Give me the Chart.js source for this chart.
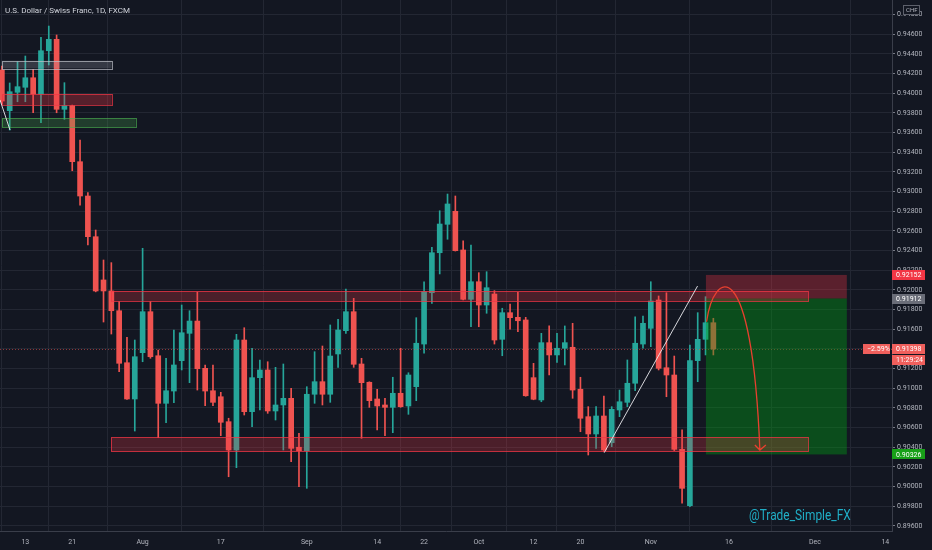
<!DOCTYPE html>
<html>
<head>
<meta charset="utf-8">
<title>USDCHF 1D</title>
<script src="https://cdn.jsdelivr.net/npm/chart.js@4.4.1/dist/chart.umd.min.js"></script>
<style>
  html, body { margin: 0; padding: 0; background: #131722; }
  #wrap { width: 932px; height: 550px; }
</style>
</head>
<body>
<div id="wrap"><canvas id="chart" width="932" height="550"></canvas></div>
<script>
// USD/CHF daily candles, 8 Jul .. 12 Nov 2020 (bar 0 = 13 Jul)
const firstBar = -3;

const openP = [
  0.94237, 0.93823, 0.94010, 0.94061, 0.94158, 0.93993, 0.94433, 0.94549, 0.93837, 0.93874,
  0.93304, 0.92955, 0.92541, 0.92101, 0.91989, 0.91788, 0.91259, 0.90890, 0.91361, 0.91778,
  0.91330, 0.90846, 0.90971, 0.91280, 0.91558, 0.91683, 0.91202, 0.90974, 0.90913, 0.90659,
  0.90371, 0.91490, 0.90761, 0.91107, 0.91185, 0.90768, 0.90829, 0.90897, 0.90399, 0.90364,
  0.90938, 0.91066, 0.90938, 0.91348, 0.91585, 0.91778, 0.91246, 0.91060, 0.90890, 0.90829,
  0.90805, 0.90948, 0.90819, 0.91015, 0.91449, 0.91971, 0.92378, 0.92667, 0.92799, 0.92406,
  0.91904, 0.92083, 0.91846, 0.91958, 0.91497, 0.91768, 0.91721, 0.91694, 0.91107, 0.90880,
  0.91463, 0.91338, 0.91406, 0.91416, 0.90989, 0.90710, 0.90534, 0.90717, 0.90445, 0.90778,
  0.90856, 0.91050, 0.91449, 0.91609, 0.91897, 0.91208, 0.91134, 0.90378, 0.89804, 0.91280,
  0.91497, 0.91666
];
const highP = [
  0.94278, 0.94105, 0.94321, 0.94379, 0.94244, 0.94569, 0.94684, 0.94593, 0.94108, 0.93880,
  0.93525, 0.92989, 0.92609, 0.92304, 0.92277, 0.91880, 0.91518, 0.91490, 0.92423, 0.91880,
  0.91388, 0.91304, 0.91592, 0.91846, 0.91788, 0.91978, 0.91236, 0.91236, 0.90958, 0.90694,
  0.91548, 0.91615, 0.91406, 0.91287, 0.91269, 0.91212, 0.91246, 0.90999, 0.90541, 0.91015,
  0.91371, 0.91429, 0.91643, 0.91701, 0.92009, 0.91914, 0.91304, 0.91065, 0.90989, 0.90897,
  0.91111, 0.91406, 0.91157, 0.91717, 0.92083, 0.92433, 0.92805, 0.92975, 0.92955, 0.92500,
  0.92457, 0.92175, 0.92185, 0.91992, 0.91813, 0.91856, 0.91975, 0.91721, 0.91253, 0.91558,
  0.91633, 0.91558, 0.91633, 0.91660, 0.91111, 0.90812, 0.90812, 0.90920, 0.90812, 0.90981,
  0.91287, 0.91727, 0.91734, 0.92083, 0.91938, 0.91971, 0.91327, 0.90575, 0.91439, 0.91768,
  0.91931, 0.91711
];
const lowP = [
  0.93891, 0.93626, 0.93914, 0.93914, 0.93802, 0.93701, 0.94288, 0.93802, 0.93735, 0.93212,
  0.92863, 0.92457, 0.91980, 0.91673, 0.91551, 0.91168, 0.90885, 0.90564, 0.91269, 0.91304,
  0.90496, 0.90649, 0.90852, 0.91185, 0.91056, 0.90981, 0.90822, 0.90822, 0.90517, 0.90099,
  0.90191, 0.90727, 0.90608, 0.90778, 0.90744, 0.90676, 0.90371, 0.90252, 0.89998, 0.89981,
  0.90846, 0.90829, 0.90856, 0.91212, 0.91558, 0.91212, 0.90490, 0.90805, 0.90575, 0.90517,
  0.90547, 0.90805, 0.90734, 0.90873, 0.91355, 0.91863, 0.92162, 0.92515, 0.92395, 0.91897,
  0.91625, 0.91625, 0.91762, 0.91449, 0.91330, 0.91599, 0.91575, 0.90918, 0.90882, 0.90862,
  0.91134, 0.91263, 0.91236, 0.90897, 0.90557, 0.90320, 0.90388, 0.90354, 0.90405, 0.90710,
  0.90812, 0.90974, 0.91406, 0.91422, 0.91185, 0.90913, 0.90365, 0.89829, 0.89794, 0.91066,
  0.91338, 0.91338
];
const closeP = [
  0.93921, 0.94016, 0.94067, 0.94158, 0.93993, 0.94433, 0.94549, 0.93837, 0.93874, 0.93304,
  0.92955, 0.92541, 0.91989, 0.91989, 0.91788, 0.91253, 0.90890, 0.91320, 0.91778, 0.91320,
  0.90846, 0.90974, 0.91236, 0.91564, 0.91683, 0.91198, 0.90971, 0.90856, 0.90653, 0.90371,
  0.91490, 0.90761, 0.91107, 0.91185, 0.90768, 0.90829, 0.90897, 0.90388, 0.90364, 0.90938,
  0.91066, 0.90938, 0.91327, 0.91592, 0.91778, 0.91243, 0.91056, 0.90873, 0.90819, 0.90805,
  0.90948, 0.90812, 0.91134, 0.91457, 0.91981, 0.92378, 0.92670, 0.92874, 0.92399, 0.91904,
  0.92083, 0.91846, 0.92022, 0.91490, 0.91768, 0.91717, 0.91686, 0.90923, 0.90887, 0.91463,
  0.91338, 0.91406, 0.91463, 0.90981, 0.90694, 0.90534, 0.90717, 0.90371, 0.90785, 0.90862,
  0.91050, 0.91457, 0.91660, 0.91887, 0.91202, 0.91134, 0.90378, 0.89981, 0.91280, 0.91497,
  0.91666, 0.91398
];

const priceTicks = [
  0.896, 0.898, 0.900, 0.902, 0.904, 0.906, 0.908, 0.910, 0.912, 0.914,
  0.916, 0.918, 0.920, 0.922, 0.924, 0.926, 0.928, 0.930, 0.932, 0.934,
  0.936, 0.938, 0.940, 0.942, 0.944, 0.946, 0.948
];
const dateTickBars = [0, 6, 15, 25, 36, 45, 51, 58, 65, 71, 80, 90, 101, 110];
const dateTickLabels = ['13', '21', 'Aug', '17', 'Sep', '14', '22', 'Oct', '12', '20', 'Nov', '16', 'Dec', '14'];

const lastPrice = 0.91398;
const stopPrice = 0.92152;
const entryPrice = 0.91912;
const targetPrice = 0.90326;

const UP = '#26a69a';
const DOWN = '#ef5350';
const FONT = 'Roboto, sans-serif';
const TXT = '#b2b5be';

let bodies = openP.map((o, i) => ({ x: firstBar + i, y: [o, closeP[i]] }));
let wicks = lowP.map((l, i) => ({ x: firstBar + i, y: [l, highP[i]] }));
let colors = openP.map((o, i) => closeP[i] >= o ? UP : DOWN);

// rectangles drawn on the chart (bar index / price)
const boxes = [
  { x0: -3.02, x1: 11.05, top: 0.94331, bot: 0.94254, fill: 'rgba(178,181,190,0.22)', line: 'rgba(190,193,200,0.7)' },
  { x0: -3.02, x1: 11.05, top: 0.93993, bot: 0.93881, fill: 'rgba(242,54,69,0.3)', line: 'rgba(242,54,69,0.7)' },
  { x0: -3.02, x1: 14.12, top: 0.93745, bot: 0.93654, fill: 'rgba(76,175,80,0.25)', line: 'rgba(76,175,80,0.65)' },
  { x0: 10.96, x1: 100.1, top: 0.91989, bot: 0.91887, fill: 'rgba(242,54,69,0.25)', line: 'rgba(242,54,69,0.75)' },
  { x0: 10.96, x1: 100.1, top: 0.90500, bot: 0.90354, fill: 'rgba(242,54,69,0.25)', line: 'rgba(242,54,69,0.75)' }
];

const drawPlugin = {
  id: 'tvDrawings',
  beforeDraw(chart) {
    const c = chart.ctx;
    c.save();
    c.fillStyle = '#131722';
    c.fillRect(0, 0, chart.width, chart.height);
    c.restore();
  },
  afterDatasetsDraw(chart) {
    const c = chart.ctx, a = chart.chartArea;
    const X = v => chart.scales.x.getPixelForValue(v);
    const Y = v => chart.scales.y.getPixelForValue(v);
    c.save();
    c.beginPath();
    c.rect(a.left, a.top, a.right - a.left, a.bottom - a.top);
    c.clip();

    // last price line
    c.strokeStyle = 'rgba(239,83,80,0.55)';
    c.lineWidth = 1;
    c.setLineDash([1, 2]);
    c.beginPath();
    c.moveTo(a.left, Math.round(Y(lastPrice)) + 0.5);
    c.lineTo(a.right, Math.round(Y(lastPrice)) + 0.5);
    c.stroke();
    c.setLineDash([]);

    // short position tool
    let px0 = X(87.05), px1 = X(105.07);
    c.fillStyle = 'rgba(242,54,69,0.32)';
    c.fillRect(px0, Y(stopPrice), px1 - px0, Y(entryPrice) - Y(stopPrice));
    c.fillStyle = 'rgba(0,160,20,0.4)';
    c.fillRect(px0, Y(entryPrice), px1 - px0, Y(targetPrice) - Y(entryPrice));

    boxes.forEach(b => {
      let x0 = X(b.x0), x1 = X(b.x1), y0 = Y(b.top), y1 = Y(b.bot);
      c.fillStyle = b.fill;
      c.fillRect(x0, y0, x1 - x0, y1 - y0);
      c.strokeStyle = b.line;
      c.strokeRect(Math.round(x0) + 0.5, Math.round(y0) + 0.5, Math.round(x1 - x0), Math.round(y1 - y0));
    });

    // trend lines
    c.strokeStyle = 'rgba(235,235,240,0.9)';
    c.lineWidth = 1;
    c.beginPath();
    c.moveTo(X(74.04), Y(0.90344));
    c.lineTo(X(85.98), Y(0.92039));
    c.moveTo(X(-3.24), Y(0.93932));
    c.lineTo(X(-1.96), Y(0.93626));
    c.stroke();

    // curved arrow
    let ex = X(93.95), ey = Y(0.90371);
    c.strokeStyle = '#e8402f';
    c.lineWidth = 1.3;
    c.beginPath();
    c.moveTo(X(87.13), Y(0.91676));
    c.bezierCurveTo(X(88.07), Y(0.92202), X(92.93), Y(0.92406), ex, ey);
    c.moveTo(ex - 5, ey - 5);
    c.lineTo(ex, ey);
    c.lineTo(ex + 6, ey - 5);
    c.stroke();

    // watermark (condensed)
    c.fillStyle = '#20aec6';
    c.font = '14px ' + FONT;
    c.textBaseline = 'middle';
    c.textAlign = 'left';
    c.translate(749, 516);
    c.scale(0.85, 1);
    c.fillText('@Trade_Simple_FX', 0, 0);
    c.restore();
  },
  afterDraw(chart) {
    const c = chart.ctx;
    const Y = v => chart.scales.y.getPixelForValue(v);
    c.save();
    c.font = '7px ' + FONT;
    c.textBaseline = 'middle';

    const tag = (x, y, w, bg, text) => {
      c.fillStyle = bg;
      c.fillRect(x, Math.round(y - 5), w, 10);
      c.fillStyle = '#ffffff';
      c.fillText(text, x + 4, y + 0.5);
    };
    tag(892, Y(stopPrice), 33, '#f23645', stopPrice.toFixed(5));
    tag(892, Y(entryPrice), 33, '#6a6d78', entryPrice.toFixed(5));
    tag(892, Y(lastPrice), 33, '#ef5f5c', lastPrice.toFixed(5));
    tag(892, Y(lastPrice) + 11, 33, '#ef5f5c', '11:29:24');
    tag(863, Y(lastPrice), 27, '#ef5f5c', '\u22122.59%');
    tag(892, Y(targetPrice), 33, '#18a018', targetPrice.toFixed(5));

    // currency box
    c.fillStyle = '#131722';
    c.fillRect(903, 5, 17, 10);
    c.strokeStyle = '#5d606b';
    c.strokeRect(903.5, 5.5, 16, 9);
    c.fillStyle = TXT;
    c.font = '6px ' + FONT;
    c.fillText('CHF', 906, 10.5);

    // title
    c.fillStyle = '#d1d4dc';
    c.font = '8px ' + FONT;
    c.fillText('U.S. Dollar / Swiss Franc, 1D, FXCM', 5, 11);
    c.restore();
  }
};

new Chart(document.getElementById('chart'), {
  type: 'bar',
  data: {
    datasets: [
      { label: 'body', data: bodies, backgroundColor: colors, barThickness: 5, minBarLength: 1, grouped: false, order: 1 },
      { label: 'wick', data: wicks, backgroundColor: colors, barThickness: 1, minBarLength: 1, grouped: false, order: 2 }
    ]
  },
  options: {
    responsive: false,
    animation: false,
    events: [],
    layout: { padding: 0 },
    plugins: { legend: { display: false }, tooltip: { enabled: false } },
    scales: {
      x: {
        type: 'linear',
        offset: false,
        min: -3.24,
        max: 110.85,
        afterBuildTicks: s => { s.ticks = dateTickBars.map(v => ({ value: v })); },
        afterFit: s => { s.height = 19; s.paddingLeft = 0; s.paddingRight = 0; },
        ticks: {
          autoSkip: false, maxRotation: 0, padding: 7, color: TXT,
          font: { family: FONT, size: 7 },
          callback: (v, i) => dateTickLabels[i]
        },
        grid: { color: '#232733', drawTicks: false },
        border: { color: '#3a3e4a' }
      },
      y: {
        type: 'linear',
        position: 'right',
        min: 0.89547,
        max: 0.94949,
        afterBuildTicks: s => { s.ticks = priceTicks.map(v => ({ value: v })); },
        afterFit: s => { s.width = 40; s.paddingTop = 0; s.paddingBottom = 0; },
        ticks: {
          padding: 2, color: TXT,
          font: { family: FONT, size: 7 },
          callback: v => v.toFixed(5)
        },
        grid: { color: '#232733', tickLength: 3, tickColor: '#787b86' },
        border: { color: '#3a3e4a' }
      }
    }
  },
  plugins: [drawPlugin]
});
</script>
</body>
</html>
